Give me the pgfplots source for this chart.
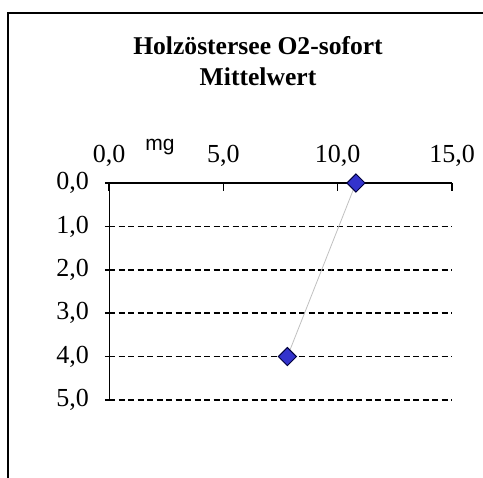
\documentclass[border=0pt]{standalone}
\usepackage{pgfplots}
\pgfplotsset{compat=1.18}
\usepackage{fontspec}
\setmainfont{Liberation Serif}
\newfontfamily\arialfont{Liberation Sans}
\definecolor{markblue}{RGB}{51,51,204}
\definecolor{markedge}{RGB}{0,0,60}
\definecolor{linegray}{RGB}{192,192,192}
\begin{document}
\begin{tikzpicture}
\useasboundingbox (0pt,0pt) rectangle (483pt,-478pt);
\draw[line width=2.5pt] (8pt,-478pt) -- (8pt,-13pt) -- (483pt,-13pt);
\node[font=\fontsize{25.6}{30}\selectfont\bfseries, anchor=base] at (258pt,-55pt) {Holzöstersee O2-sofort};
\node[font=\fontsize{25.6}{30}\selectfont\bfseries, anchor=base] at (258pt,-86pt) {Mittelwert};
\node[font=\arialfont\fontsize{21}{24}\selectfont, anchor=base] at (160pt,-151pt) {mg};
\begin{axis}[
    at={(109pt,-183pt)}, anchor=north west,
    scale only axis,
    width=343pt, height=217pt,
    xmin=0, xmax=15, ymin=0, ymax=5,
    y dir=reverse,
    xtick={0,5,10,15},
    ytick={0,1,2,3,4,5},
    axis line style={draw=none},
    ymajorgrids,
    major grid style={black, line width=1.6pt, dash pattern=on 6pt off 3.5pt},
    tick style={black, line width=1.5pt},
    major tick length=8pt,
    tick align=center,
    xtick style={yshift=-4pt},
    xtick pos=right, xticklabel pos=right, ytick pos=left,
    tick label style={font=\fontsize{26}{30}\selectfont},
    xticklabel style={anchor=base, inner sep=0pt, yshift=16pt},
    yticklabel style={anchor=east, inner sep=0pt, xshift=-16pt},
    /pgf/number format/.cd, fixed, fixed zerofill, precision=1, use comma, assume math mode=true,
]
\draw[black, line width=2.5pt] (axis cs:0,0) -- (axis cs:15,0);
\draw[black, line width=2.5pt] (axis cs:0,0) -- (axis cs:0,5);
\addplot[linegray, line width=0.8pt, mark=square*, mark size=6.4pt,
    mark options={rotate=45, fill=markblue, draw=markedge, line width=1pt, solid}]
    coordinates {(10.8,0) (7.8,4)};
\end{axis}
\end{tikzpicture}
\end{document}
